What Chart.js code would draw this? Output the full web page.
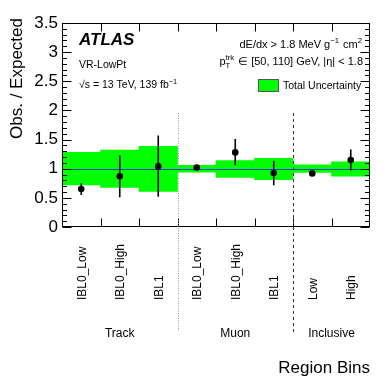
<!DOCTYPE html>
<html>
<head>
<meta charset="utf-8">
<script src="https://cdn.jsdelivr.net/npm/chart.js@4.4.0/dist/chart.umd.min.js"></script>
<style>
  body { margin: 0; background: #fff; }
  canvas { display: block; }
</style>
</head>
<body>
<canvas id="ratioChart" width="390" height="379"></canvas>
<script>
// bins along the x axis
var binLabels = ['IBL0_Low', 'IBL0_High', 'IBL1', 'IBL0_Low', 'IBL0_High', 'IBL1', 'Low', 'High'];
var groupNames = ['Track', 'Muon', 'Inclusive'];
var groupEdges = [0, 3, 6, 8];

// observed / expected with its error bar
var obsRatio = [0.65, 0.87, 1.04, 1.02, 1.28, 0.925, 0.92, 1.15];
var errUp = [0.10, 0.36, 0.53, 0.03, 0.23, 0.21, 0.02, 0.18];
var errDown = [0.10, 0.36, 0.52, 0.03, 0.22, 0.21, 0.02, 0.18];

// total uncertainty band
var bandLow = [0.72, 0.68, 0.61, 0.94, 0.85, 0.81, 0.935, 0.87];
var bandHigh = [1.28, 1.32, 1.385, 1.06, 1.14, 1.18, 1.065, 1.12];

var yTicks = [0, 0.5, 1, 1.5, 2, 2.5, 3, 3.5];
var yTickLabels = ['0', '0.5', '1', '1.5', '2', '2.5', '3', '3.5'];

var FAMILY = '"Liberation Sans", Arial, Helvetica, sans-serif';
function font(size, style) {
  return (style ? style + ' ' : '') + size + 'px ' + FAMILY;
}

// text with superscripts / subscripts, parts like {t:'..'} or {sup:'..', sub:'..'}
function partWidth(ctx, p, size) {
  if (p.t !== undefined) {
    ctx.font = font(size);
    return ctx.measureText(p.t).width;
  }
  ctx.font = font(size * 0.7);
  var a = p.sup ? ctx.measureText(p.sup).width : 0;
  var b = p.sub ? ctx.measureText(p.sub).width : 0;
  return Math.max(a, b) + 1;
}
function drawRich(ctx, parts, x, y, size, align) {
  var total = 0;
  parts.forEach(function (p) { total += partWidth(ctx, p, size); });
  var cx = align === 'right' ? x - total : x;
  ctx.textAlign = 'left';
  ctx.textBaseline = 'alphabetic';
  parts.forEach(function (p) {
    var w = partWidth(ctx, p, size);
    if (p.t !== undefined) {
      ctx.font = font(size);
      ctx.fillText(p.t, cx, y);
    } else {
      ctx.font = font(size * 0.7);
      if (p.sup) ctx.fillText(p.sup, cx, y - size * 0.42);
      if (p.sub) ctx.fillText(p.sub, cx, y + size * 0.3);
    }
    cx += w;
  });
}

var atlasPlugin = {
  id: 'atlasStyle',
  afterDatasetDraw: function (chart, args) {
    // band is dataset 1 and is drawn first; put the line and error bars on it
    if (args.index !== 1) return;
    var ctx = chart.ctx, xs = chart.scales.x, ys = chart.scales.y, area = chart.chartArea;
    ctx.save();
    ctx.strokeStyle = '#1c3fcf';
    ctx.lineWidth = 1;
    var y1 = Math.round(ys.getPixelForValue(1)) + 0.5;
    ctx.beginPath();
    ctx.moveTo(area.left, y1);
    ctx.lineTo(area.right, y1);
    ctx.stroke();

    ctx.strokeStyle = '#000';
    ctx.lineWidth = 1.6;
    for (var i = 0; i < obsRatio.length; i++) {
      var px = xs.getPixelForValue(i);
      ctx.beginPath();
      ctx.moveTo(px, ys.getPixelForValue(obsRatio[i] + errUp[i]));
      ctx.lineTo(px, ys.getPixelForValue(obsRatio[i] - errDown[i]));
      ctx.stroke();
    }
    ctx.restore();
  },
  afterDraw: function (chart) {
    var ctx = chart.ctx, xs = chart.scales.x, ys = chart.scales.y, area = chart.chartArea;
    var binW = xs.getPixelForValue(1) - xs.getPixelForValue(0);
    function edge(k) { return xs.getPixelForValue(0) + (k - 0.5) * binW; }
    var L = Math.round(area.left) + 0.5, R = Math.round(area.right) - 0.5;
    var T = Math.round(area.top) + 0.5, B = Math.round(area.bottom) - 0.5;

    ctx.save();
    ctx.fillStyle = '#000';
    ctx.strokeStyle = '#000';
    ctx.lineWidth = 1;

    // frame
    ctx.strokeRect(L, T, R - L, B - T);

    // y ticks, minor every 0.1 on both sides
    ctx.beginPath();
    for (var m = 0; m <= 35; m++) {
      var v = m / 10;
      var py = Math.round(ys.getPixelForValue(v)) + 0.5;
      var len = (m % 5 === 0) ? 9 : 4.5;
      ctx.moveTo(L, py); ctx.lineTo(L + len, py);
      ctx.moveTo(R, py); ctx.lineTo(R - len, py);
    }
    // x ticks on the bin edges, top and bottom
    for (var k = 1; k < binLabels.length; k++) {
      var ex = Math.round(edge(k)) + 0.5;
      ctx.moveTo(ex, B); ctx.lineTo(ex, B - 8);
      ctx.moveTo(ex, T); ctx.lineTo(ex, T + 8);
    }
    ctx.stroke();

    // y tick labels
    ctx.font = font(17);
    ctx.textAlign = 'right';
    ctx.textBaseline = 'middle';
    yTicks.forEach(function (v, i) {
      ctx.fillText(yTickLabels[i], area.left - 4, ys.getPixelForValue(v));
    });

    // y title
    ctx.save();
    ctx.translate(22, 18);
    ctx.rotate(-Math.PI / 2);
    ctx.textAlign = 'right';
    ctx.textBaseline = 'alphabetic';
    ctx.fillText('Obs. / Expected', 0, 0);
    ctx.restore();

    // bin labels, rotated
    ctx.font = font(12);
    binLabels.forEach(function (lab, i) {
      ctx.save();
      ctx.translate(xs.getPixelForValue(i) + 4.5, 300);
      ctx.rotate(-Math.PI / 2);
      ctx.textAlign = 'left';
      ctx.textBaseline = 'alphabetic';
      ctx.fillText(lab, 0, 0);
      ctx.restore();
    });

    // group names
    ctx.textAlign = 'center';
    ctx.textBaseline = 'alphabetic';
    groupNames.forEach(function (g, i) {
      var cx = (edge(groupEdges[i]) + edge(groupEdges[i + 1])) / 2;
      ctx.fillText(g, cx, 337);
    });

    // separators between groups
    ctx.lineWidth = 1;
    ctx.strokeStyle = '#9a9a9a';
    ctx.setLineDash([1, 1.5]);
    var s1 = Math.round(edge(groupEdges[1])) + 0.5;
    ctx.beginPath(); ctx.moveTo(s1, 113); ctx.lineTo(s1, 331); ctx.stroke();
    ctx.strokeStyle = '#333';
    ctx.setLineDash([3, 3]);
    var s2 = Math.round(edge(groupEdges[2])) + 0.5;
    ctx.beginPath(); ctx.moveTo(s2, 113); ctx.lineTo(s2, 332); ctx.stroke();
    ctx.setLineDash([]);

    // x title
    ctx.font = font(17);
    ctx.textAlign = 'right';
    ctx.fillText('Region Bins', area.right, 373);

    // ATLAS label block
    ctx.textAlign = 'left';
    ctx.font = font(17, 'italic bold');
    ctx.fillText('ATLAS', 79, 45);
    ctx.font = font(10.5);
    ctx.fillText('VR-LowPt', 79, 68);
    drawRich(ctx, [{ t: '\u221As = 13 TeV, 139 fb' }, { sup: '\u22121' }], 79, 88, 10.5, 'left');

    // selection text on the right
    drawRich(ctx, [{ t: 'dE/dx > 1.8 MeV g' }, { sup: '\u22121' }, { t: ' cm' }, { sup: '2' }], 363, 48, 11, 'right');
    drawRich(ctx, [{ t: 'p' }, { sup: 'trk', sub: 'T' }, { t: ' \u2208 [50, 110] GeV, |\u03B7| < 1.8' }], 363, 65, 11, 'right');

    // legend
    ctx.fillStyle = '#00ff00';
    ctx.fillRect(258, 79, 20, 12);
    ctx.strokeStyle = '#555';
    ctx.strokeRect(258.5, 79.5, 20, 12);
    ctx.fillStyle = '#000';
    ctx.font = font(10.5);
    ctx.textAlign = 'left';
    ctx.fillText('Total Uncertainty', 283, 89);

    ctx.restore();
  }
};

var ctx = document.getElementById('ratioChart').getContext('2d');
var chart = new Chart(ctx, {
  type: 'bar',
  data: {
    labels: binLabels,
    datasets: [
      {
        type: 'line',
        label: 'Data',
        data: obsRatio,
        showLine: false,
        pointRadius: 3.3,
        pointBackgroundColor: '#000',
        pointBorderWidth: 0
      },
      {
        type: 'bar',
        label: 'Total Uncertainty',
        data: bandLow.map(function (lo, i) { return [lo, bandHigh[i]]; }),
        backgroundColor: '#00ff00',
        borderWidth: 0,
        barPercentage: 1,
        categoryPercentage: 1
      }
    ]
  },
  options: {
    responsive: false,
    animation: false,
    layout: { padding: { left: 62, right: 20, top: 23, bottom: 152 } },
    plugins: { legend: { display: false }, tooltip: { enabled: false } },
    scales: {
      x: { type: 'category', offset: true, display: false },
      y: { min: 0, max: 3.5, display: false }
    }
  },
  plugins: [atlasPlugin]
});
</script>
</body>
</html>
